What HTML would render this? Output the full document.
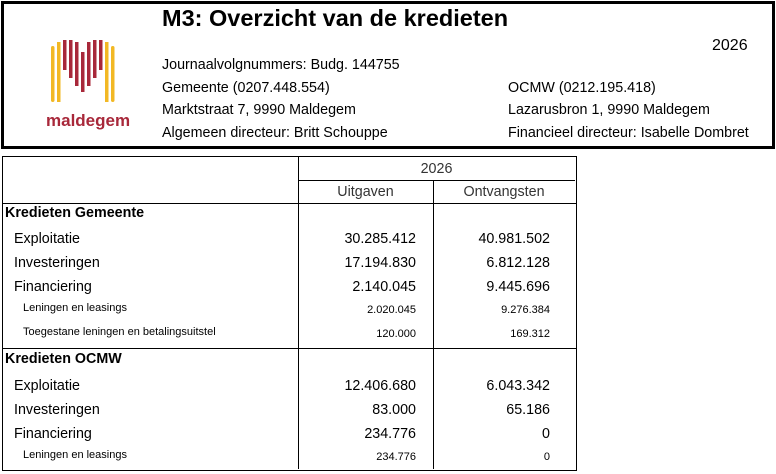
<!DOCTYPE html>
<html><head><meta charset="utf-8"><style>
body{margin:0;width:776px;height:474px;background:#fff;font-family:"Liberation Sans",Arial,sans-serif;color:#000;position:relative;overflow:hidden}
.a{position:absolute;white-space:nowrap}
.h{font-size:14.3px}
.r{text-align:right}
.line{position:absolute;background:#000}
</style></head><body>
<div class="a" style="left:1px;top:1px;width:768px;height:142px;border:3px solid #000"></div>
<svg class="a" style="left:50px;top:38px" width="66" height="66" viewBox="0 0 66 66">
<g fill="#f2b824">
<rect x="1" y="8" width="3.5" height="56" rx="1.7"/><rect x="7" y="4" width="3.5" height="60"/>
<rect x="55" y="4" width="3.5" height="60"/><rect x="61" y="8" width="3.5" height="56" rx="1.7"/>
</g>
<g fill="#a8283a">
<rect x="13" y="2" width="3.5" height="30"/><rect x="19" y="2" width="3.5" height="38"/>
<rect x="25" y="4" width="3.5" height="44"/><rect x="31" y="14" width="3.5" height="40"/>
<rect x="37" y="4" width="3.5" height="44"/><rect x="43" y="2" width="3.5" height="38"/>
<rect x="49" y="2" width="3.5" height="30"/>
</g>
</svg>
<div class="a" style="left:46px;top:111px;font-size:17px;font-weight:bold;color:#a8283a">maldegem</div>
<div class="a" style="left:162px;top:5px;font-size:23.5px;font-weight:bold">M3: Overzicht van de kredieten</div>
<div class="a" style="left:712px;top:37px;font-size:16px">2026</div>
<div class="a h" style="left:162px;top:57px">Journaalvolgnummers: Budg. 144755</div>
<div class="a h" style="left:162px;top:80px">Gemeente (0207.448.554)</div>
<div class="a h" style="left:162px;top:102px">Marktstraat 7, 9990 Maldegem</div>
<div class="a h" style="left:162px;top:125px">Algemeen directeur: Britt Schouppe</div>
<div class="a h" style="left:508px;top:80px">OCMW (0212.195.418)</div>
<div class="a h" style="left:508px;top:102px">Lazarusbron 1, 9990 Maldegem</div>
<div class="a h" style="left:508px;top:125px">Financieel directeur: Isabelle Dombret</div>

<div class="a" style="left:2px;top:156px;width:573px;height:313px;border:1px solid #000"></div>
<div class="line" style="left:298px;top:156px;width:1px;height:313px"></div>
<div class="line" style="left:433px;top:180px;width:1px;height:289px"></div>
<div class="line" style="left:298px;top:180px;width:277px;height:1px"></div>
<div class="line" style="left:2px;top:203px;width:574px;height:1px"></div>
<div class="line" style="left:2px;top:348px;width:574px;height:1px"></div>
<div class="a h" style="left:298px;top:161px;width:277px;text-align:center;color:#333">2026</div>
<div class="a h" style="left:298px;top:184px;width:135px;text-align:center;color:#333">Uitgaven</div>
<div class="a h" style="left:433px;top:184px;width:142px;text-align:center;color:#333">Ontvangsten</div>

<div class="a" style="left:5px;top:205px;font-size:14.3px;font-weight:bold">Kredieten Gemeente</div>
<div class="a h" style="left:14px;top:231px">Exploitatie</div>
<div class="a h" style="left:14px;top:255px">Investeringen</div>
<div class="a h" style="left:14px;top:279px">Financiering</div>
<div class="a" style="left:23px;top:302px;font-size:11px">Leningen en leasings</div>
<div class="a" style="left:23px;top:326px;font-size:11px">Toegestane leningen en betalingsuitstel</div>
<div class="a h r" style="right:360px;top:231px">30.285.412</div>
<div class="a h r" style="right:226px;top:231px">40.981.502</div>
<div class="a h r" style="right:360px;top:255px">17.194.830</div>
<div class="a h r" style="right:226px;top:255px">6.812.128</div>
<div class="a h r" style="right:360px;top:279px">2.140.045</div>
<div class="a h r" style="right:226px;top:279px">9.445.696</div>
<div class="a r" style="right:360px;top:304px;font-size:11px">2.020.045</div>
<div class="a r" style="right:226px;top:304px;font-size:11px">9.276.384</div>
<div class="a r" style="right:360px;top:328px;font-size:11px">120.000</div>
<div class="a r" style="right:226px;top:328px;font-size:11px">169.312</div>

<div class="a" style="left:5px;top:351px;font-size:14.3px;font-weight:bold">Kredieten OCMW</div>
<div class="a h" style="left:14px;top:378px">Exploitatie</div>
<div class="a h" style="left:14px;top:402px">Investeringen</div>
<div class="a h" style="left:14px;top:426px">Financiering</div>
<div class="a" style="left:23px;top:449px;font-size:11px">Leningen en leasings</div>
<div class="a h r" style="right:360px;top:378px">12.406.680</div>
<div class="a h r" style="right:226px;top:378px">6.043.342</div>
<div class="a h r" style="right:360px;top:402px">83.000</div>
<div class="a h r" style="right:226px;top:402px">65.186</div>
<div class="a h r" style="right:360px;top:426px">234.776</div>
<div class="a h r" style="right:226px;top:426px">0</div>
<div class="a r" style="right:360px;top:451px;font-size:11px">234.776</div>
<div class="a r" style="right:226px;top:451px;font-size:11px">0</div>
</body></html>
